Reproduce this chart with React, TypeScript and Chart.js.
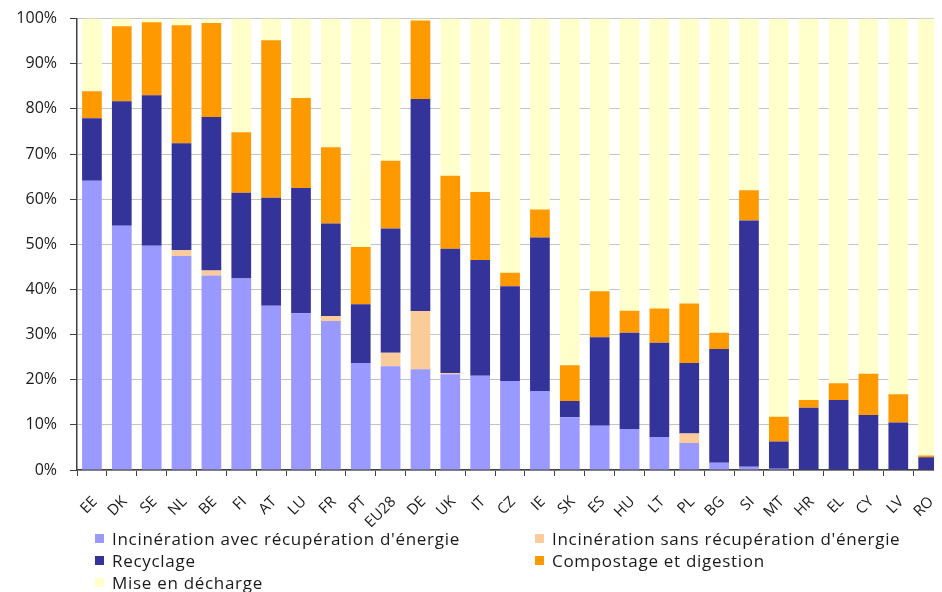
import React, { useEffect, useRef } from "react";
import { Chart, registerables } from "chart.js";

Chart.register(...registerables);

const countries = ["EE", "DK", "SE", "NL", "BE", "FI", "AT", "LU", "FR", "PT", "EU28", "DE", "UK", "IT", "CZ", "IE", "SK", "ES", "HU", "LT", "PL", "BG", "SI", "MT", "HR", "EL", "CY", "LV", "RO"];

const incinAvec = [64.1, 54.1, 49.7, 47.4, 43.1, 42.4, 36.4, 34.7, 33.0, 23.7, 23.0, 22.3, 21.2, 20.9, 19.7, 17.5, 11.7, 9.8, 9.1, 7.3, 6.0, 1.6, 0.7, 0.3, 0, 0, 0, 0, 0];
const incinSans = [0, 0, 0, 1.3, 1.1, 0, 0, 0, 1.1, 0, 3.0, 12.9, 0.3, 0, 0, 0, 0, 0, 0, 0, 2.1, 0, 0, 0, 0, 0, 0, 0, 0];
const recyclage = [13.8, 27.6, 33.3, 23.7, 34.0, 19.0, 23.9, 27.8, 20.5, 13.0, 27.5, 47.0, 27.5, 25.6, 21.0, 34.0, 3.6, 19.6, 21.3, 20.9, 15.6, 25.2, 54.6, 6.0, 13.8, 15.5, 12.2, 10.5, 2.8];
const compostage = [6.0, 16.6, 16.2, 26.1, 20.8, 13.4, 34.9, 19.9, 16.9, 12.7, 15.0, 17.4, 16.2, 15.1, 3.0, 6.2, 7.9, 10.2, 4.9, 7.6, 13.2, 3.6, 6.7, 5.5, 1.7, 3.7, 9.1, 6.3, 0.4];
const decharge = [16.1, 1.7, 0.8, 1.5, 1.0, 25.2, 4.8, 17.6, 28.5, 50.6, 31.5, 0.4, 34.8, 38.4, 56.3, 42.3, 76.8, 60.4, 64.7, 64.2, 63.1, 69.6, 38.0, 88.2, 84.5, 80.8, 78.7, 83.2, 96.8];

const yTicks = [0, 10, 20, 30, 40, 50, 60, 70, 80, 90, 100];

const seriesLabels = [
  "Incinération avec récupération d'énergie",
  "Incinération sans récupération d'énergie",
  "Recyclage",
  "Compostage et digestion",
  "Mise en décharge",
];
const seriesColors = ["#9999FF", "#FCCB9A", "#333399", "#FF9900", "#FFFFCC"];
const seriesData = [incinAvec, incinSans, recyclage, compostage, decharge];

const FONT = "'Open Sans', 'Noto Sans', sans-serif";

export default function App() {
  const ref = useRef<HTMLCanvasElement | null>(null);

  useEffect(() => {
    if (!ref.current) return;
    const chart = new Chart(ref.current, {
      type: "bar",
      data: {
        labels: countries,
        datasets: seriesData.map((d, i) => ({
          label: seriesLabels[i],
          data: d,
          backgroundColor: seriesColors[i],
          borderWidth: 0,
          barPercentage: 0.66,
          categoryPercentage: 1,
        })),
      },
      options: {
        animation: false,
        responsive: false,
        maintainAspectRatio: false,
        layout: { padding: { top: 2, right: 6, left: 0, bottom: 0 } },
        plugins: {
          legend: { display: false },
          tooltip: { enabled: false },
          title: { display: false },
        },
        scales: {
          x: {
            stacked: true,
            grid: {
              offset: true,
              drawOnChartArea: false,
              drawTicks: true,
              tickLength: 6,
              tickColor: "#404040",
            },
            border: { display: true, color: "#404040", width: 1.5 },
            ticks: {
              autoSkip: false,
              maxRotation: 45,
              minRotation: 45,
              labelOffset: 3,
              padding: 17,
              color: "#1a1a1a",
              font: { family: FONT, size: 15 },
            },
            afterFit: (scale: any) => {
              scale.height = 63;
            },
          },
          y: {
            stacked: true,
            min: 0,
            max: 100,
            afterBuildTicks: (scale: any) => {
              scale.ticks = yTicks.map((v) => ({ value: v }));
            },
            grid: {
              color: "#c4c4c4",
              lineWidth: 1,
              tickLength: 7,
              tickColor: "#404040",
            },
            border: { display: true, color: "#404040", width: 1.5 },
            ticks: {
              padding: 13,
              color: "#1a1a1a",
              font: { family: FONT, size: 16 },
              callback: (v: any) => v + "%",
            },
            afterFit: (scale: any) => {
              scale.width = 69;
            },
          },
        },
      },
    });
    return () => chart.destroy();
  }, []);

  const legendPos = [
    { left: 87, top: 519 },
    { left: 527, top: 519 },
    { left: 87, top: 541 },
    { left: 527, top: 541 },
    { left: 87, top: 563 },
  ];

  return (
    <div style={{ position: "relative", width: 934, height: 584, overflow: "hidden", background: "#fff" }}>
      <canvas ref={ref} width={950} height={537} style={{ position: "absolute", left: 0, top: -12, width: 950, height: 537 }} />
      {seriesLabels.map((lab, i) => (
        <div
          key={lab}
          style={{
            position: "absolute",
            left: legendPos[i].left,
            top: legendPos[i].top,
            height: 22,
            display: "flex",
            alignItems: "center",
            fontFamily: FONT,
            fontSize: 17,
            letterSpacing: 0.7,
            color: "#1a1a1a",
            whiteSpace: "nowrap",
          }}
        >
          <span style={{ display: "inline-block", width: 9, height: 9, background: seriesColors[i], marginRight: 8 }} />
          <span>{lab}</span>
        </div>
      ))}
    </div>
  );
}
